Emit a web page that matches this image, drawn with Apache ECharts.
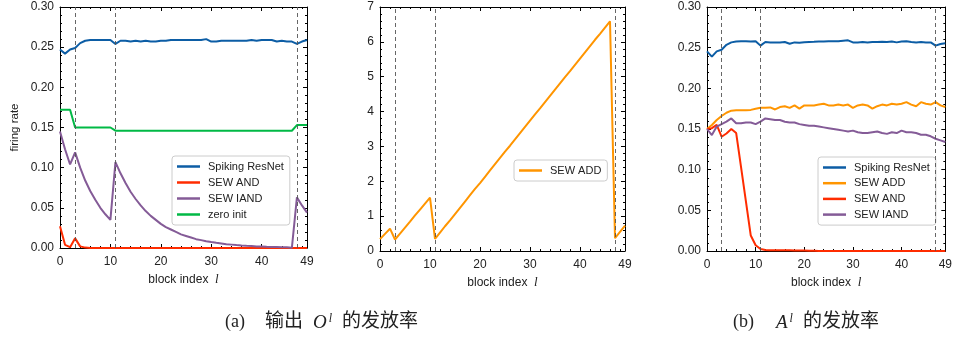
<!DOCTYPE html>
<html>
<head>
<meta charset="utf-8">
<script src="https://cdn.jsdelivr.net/npm/echarts@6/dist/echarts.min.js"></script>
<style>
html, body { margin: 0; padding: 0; background: #fff; }
#main { width: 955px; height: 339px; }
</style>
</head>
<body>
<div id="main"></div>
<script>
// block index l
const blocks = [0, 1, 2, 3, 4, 5, 6, 7, 8, 9, 10, 11, 12, 13, 14, 15, 16, 17, 18, 19,
  20, 21, 22, 23, 24, 25, 26, 27, 28, 29, 30, 31, 32, 33, 34, 35, 36, 37, 38, 39,
  40, 41, 42, 43, 44, 45, 46, 47, 48, 49];
const xTickLabels = [0, 10, 20, 30, 40, 49];
const stageEdges = [3, 11, 47];

// (a) firing rate of output O^l
const oResnet = [0.247, 0.242, 0.247, 0.249, 0.255, 0.258, 0.259, 0.259, 0.259, 0.259,
  0.259, 0.254, 0.258, 0.258, 0.257, 0.258, 0.257, 0.258, 0.257, 0.257,
  0.258, 0.258, 0.259, 0.259, 0.259, 0.259, 0.259, 0.259, 0.259, 0.260,
  0.257, 0.257, 0.258, 0.258, 0.258, 0.258, 0.258, 0.258, 0.259, 0.258,
  0.259, 0.259, 0.259, 0.257, 0.258, 0.257, 0.257, 0.254, 0.257, 0.259];
const oAnd = [0.027, 0.004, 0.001, 0.012, 0.002, 0.0005, 0, 0, 0, 0,
  0, 0, 0, 0, 0, 0, 0, 0, 0, 0,
  0, 0, 0, 0, 0, 0, 0, 0, 0, 0,
  0, 0, 0, 0, 0, 0, 0, 0, 0, 0,
  0, 0, 0, 0, 0, 0, 0, 0, 0, 0];
const oIand = [0.145, 0.123, 0.104, 0.119, 0.100, 0.084, 0.071, 0.060, 0.050, 0.042,
  0.035, 0.107, 0.093, 0.081, 0.070, 0.061, 0.053, 0.046, 0.040, 0.035,
  0.030, 0.026, 0.023, 0.020, 0.017, 0.015, 0.013, 0.011, 0.0098, 0.0085,
  0.0074, 0.0064, 0.0056, 0.0048, 0.0042, 0.0036, 0.0031, 0.0027, 0.0024, 0.0020,
  0.0018, 0.0015, 0.0013, 0.0012, 0.0010, 0.0009, 0.0002, 0.063, 0.053, 0.044];
const oZero = [0.172, 0.172, 0.172, 0.150, 0.150, 0.150, 0.150, 0.150, 0.150, 0.150,
  0.150, 0.146, 0.146, 0.146, 0.146, 0.146, 0.146, 0.146, 0.146, 0.146,
  0.146, 0.146, 0.146, 0.146, 0.146, 0.146, 0.146, 0.146, 0.146, 0.146,
  0.146, 0.146, 0.146, 0.146, 0.146, 0.146, 0.146, 0.146, 0.146, 0.146,
  0.146, 0.146, 0.146, 0.146, 0.146, 0.146, 0.146, 0.153, 0.153, 0.153];
const oAdd = [0.34, 0.49, 0.64, 0.33, 0.50, 0.67, 0.84, 1.02, 1.19, 1.36,
  1.53, 0.35, 0.53, 0.71, 0.88, 1.06, 1.24, 1.42, 1.60, 1.78,
  1.95, 2.13, 2.31, 2.49, 2.67, 2.85, 3.02, 3.20, 3.38, 3.56,
  3.74, 3.92, 4.09, 4.27, 4.45, 4.63, 4.81, 4.99, 5.16, 5.34,
  5.52, 5.70, 5.88, 6.06, 6.23, 6.41, 6.59, 0.37, 0.55, 0.73];

// (b) firing rate of A^l
const aResnet = [0.2455, 0.239, 0.2455, 0.2475, 0.2535, 0.2565, 0.2575, 0.258, 0.258, 0.2575,
  0.258, 0.2525, 0.257, 0.2565, 0.2565, 0.2565, 0.257, 0.2548, 0.2565, 0.256,
  0.2568, 0.257, 0.2572, 0.2575, 0.2575, 0.2578, 0.258, 0.258, 0.2585, 0.259,
  0.2565, 0.2565, 0.257, 0.2565, 0.257, 0.257, 0.2572, 0.257, 0.2575, 0.2565,
  0.2575, 0.258, 0.257, 0.2565, 0.257, 0.2565, 0.2565, 0.2525, 0.2545, 0.2555];
const aAdd = [0.150, 0.155, 0.161, 0.166, 0.170, 0.1725, 0.173, 0.173, 0.173, 0.1735,
  0.175, 0.176, 0.176, 0.1765, 0.174, 0.177, 0.178, 0.176, 0.179, 0.175,
  0.179, 0.179, 0.179, 0.180, 0.181, 0.179, 0.179, 0.180, 0.179, 0.180,
  0.176, 0.179, 0.180, 0.179, 0.175, 0.178, 0.180, 0.179, 0.181, 0.180,
  0.181, 0.183, 0.180, 0.178, 0.183, 0.181, 0.180, 0.183, 0.179, 0.177];
const aAnd = [0.150, 0.151, 0.155, 0.1405, 0.1445, 0.150, 0.145, 0.103, 0.061, 0.019,
  0.007, 0.0025, 0.0012, 0.001, 0.001, 0.0009, 0.0008, 0.0008, 0.0007, 0.0006,
  0.0005, 0.0004, 0.0002, 0, 0, 0, 0, 0, 0, 0,
  0, 0, 0, 0, 0, 0, 0, 0, 0, 0,
  0, 0, 0, 0, 0, 0, 0, 0, 0, 0];
const aIand = [0.150, 0.1425, 0.153, 0.156, 0.159, 0.163, 0.157, 0.157, 0.158, 0.158,
  0.156, 0.159, 0.163, 0.162, 0.161, 0.161, 0.159, 0.158, 0.158, 0.156,
  0.155, 0.154, 0.154, 0.153, 0.152, 0.151, 0.150, 0.149, 0.148, 0.147,
  0.148, 0.146, 0.145, 0.145, 0.146, 0.147, 0.145, 0.144, 0.146, 0.145,
  0.148, 0.146, 0.146, 0.145, 0.143, 0.143, 0.141, 0.138, 0.136, 0.134];

const colors = {
  blue: "#0C5DA5",
  green: "#00B945",
  orange: "#FF9500",
  red: "#FF2C00",
  purple: "#845B97"
};

const sans = "Liberation Sans";
const serif = "Liberation Serif";
const cjk = "Liberation Serif, Noto Sans CJK SC";
const myChart = echarts.init(document.getElementById("main"));

const axisBase = {
  axisLine: { show: true, onZero: false, lineStyle: { color: "#000", width: 1 } },
  axisTick: { show: true, inside: true, length: 4, lineStyle: { color: "#000" } },
  minorTick: { show: true, splitNumber: 5, length: 2, lineStyle: { color: "#000" } },
  splitLine: { show: false }
};

function xAxes(grid, nameGap) {
  return [
    Object.assign({}, axisBase, {
      type: "value",
      gridIndex: grid,
      min: 0,
      max: 49,
      interval: 10,
      position: "bottom",
      axisLabel: {
        customValues: xTickLabels,
        margin: 8,
        color: "#222",
        fontSize: 12,
        fontFamily: sans
      },
      name: "{n|block index  }{i|l}",
      nameLocation: "middle",
      nameGap: nameGap,
      nameTextStyle: {
        rich: {
          n: { fontSize: 12, fontFamily: sans, color: "#222" },
          i: { fontSize: 13, fontFamily: serif, fontStyle: "italic", color: "#222" }
        }
      }
    }),
    Object.assign({}, axisBase, {
      type: "value",
      gridIndex: grid,
      min: 0,
      max: 49,
      interval: 10,
      position: "top",
      axisLabel: { show: false }
    })
  ];
}

function yAxes(grid, max, interval, digits, name) {
  return [
    Object.assign({}, axisBase, {
      type: "value",
      gridIndex: grid,
      min: 0,
      max: max,
      interval: interval,
      position: "left",
      axisLabel: {
        margin: 6,
        color: "#222",
        fontSize: 12,
        fontFamily: sans,
        formatter: v => v.toFixed(digits)
      },
      name: name,
      nameLocation: "middle",
      nameGap: 39,
      nameTextStyle: { fontSize: 11.5, fontFamily: sans, color: "#222" }
    }),
    Object.assign({}, axisBase, {
      type: "value",
      gridIndex: grid,
      min: 0,
      max: max,
      interval: interval,
      position: "right",
      axisLabel: { show: false }
    })
  ];
}

function pairs(vals) {
  return blocks.map((b, i) => [b, vals[i]]);
}

function line(name, vals, color, axisIdx, withEdges) {
  const s = {
    name: name,
    type: "line",
    xAxisIndex: axisIdx,
    yAxisIndex: axisIdx,
    data: pairs(vals),
    symbol: "none",
    color: color,
    lineStyle: { color: color, width: 2 },
    animation: false
  };
  if (withEdges) {
    s.markLine = {
      silent: true,
      symbol: "none",
      label: { show: false },
      lineStyle: { type: [4, 3], color: "#555", width: 0.9 },
      data: stageEdges.map(v => ({ xAxis: v }))
    };
  }
  return s;
}

function legend(names, left, top, gap) {
  return {
    data: names,
    orient: "vertical",
    left: left,
    top: top,
    icon: "rect",
    itemWidth: 23,
    itemHeight: 2.5,
    itemGap: gap,
    padding: [4, 6, 4, 5],
    borderColor: "#cccccc",
    borderWidth: 1,
    borderRadius: 3,
    backgroundColor: "#fff",
    selectedMode: false,
    textStyle: { fontSize: 11, fontFamily: sans, color: "#222", lineHeight: 13, padding: [0, 0, 0, 3] }
  };
}

const capRich = {
  p: { fontSize: 18, fontFamily: serif, fill: "#222" },
  c: { fontSize: 19, fontFamily: cjk, fill: "#222", padding: [0, 0, 0, 20] },
  o: { fontSize: 19, fontFamily: serif, fontStyle: "italic", fill: "#222", padding: [0, 0, 0, 10] },
  s: { fontSize: 12, fontFamily: serif, fontStyle: "italic", fill: "#222", verticalAlign: "top", padding: [0, 0, 0, 2] },
  c2: { fontSize: 19, fontFamily: cjk, fill: "#222", padding: [0, 0, 0, 10] }
};

myChart.setOption({
  animation: false,
  grid: [
    { left: 60, top: 7, width: 247, height: 241 },
    { left: 380, top: 7, width: 245, height: 244 },
    { left: 707, top: 7, width: 246, height: 244 }
  ],
  xAxis: [].concat(xAxes(0, 21), xAxes(1, 20), xAxes(2, 20)),
  yAxis: [].concat(
    yAxes(0, 0.30, 0.05, 2, "firing rate"),
    yAxes(1, 7, 1, 0, ""),
    yAxes(2, 0.30, 0.05, 2, "")
  ),
  legend: [
    legend(["Spiking ResNet", "SEW AND", "SEW IAND", "zero init"], 172, 156, 3),
    legend(["SEW ADD"], 514, 160, 3),
    legend(["Spiking ResNet", "SEW ADD", "SEW AND", "SEW IAND"], 818, 157, 2.7)
  ],
  series: [
    line("Spiking ResNet", oResnet, colors.blue, 0, true),
    line("SEW AND", oAnd, colors.red, 0),
    line("SEW IAND", oIand, colors.purple, 0),
    line("zero init", oZero, colors.green, 0),

    line("SEW ADD", oAdd, colors.orange, 2, true),

    line("Spiking ResNet", aResnet, colors.blue, 4, true),
    line("SEW ADD", aAdd, colors.orange, 4),
    line("SEW AND", aAnd, colors.red, 4),
    line("SEW IAND", aIand, colors.purple, 4)
  ],
  graphic: [
    {
      type: "text",
      left: 225,
      top: 313,
      style: { text: "{p|(a)}{c|输出}{o|O}{s|l}{c2|的发放率}", rich: capRich }
    },
    {
      type: "text",
      left: 733,
      top: 313,
      style: { text: "{p|(b)}{o|A}{s|l}{c2|的发放率}", rich: Object.assign({}, capRich, {
        o: Object.assign({}, capRich.o, { padding: [0, 0, 0, 22] })
      }) }
    }
  ]
});

window.addEventListener("resize", () => {
  myChart.resize();
});
</script>
</body>
</html>
